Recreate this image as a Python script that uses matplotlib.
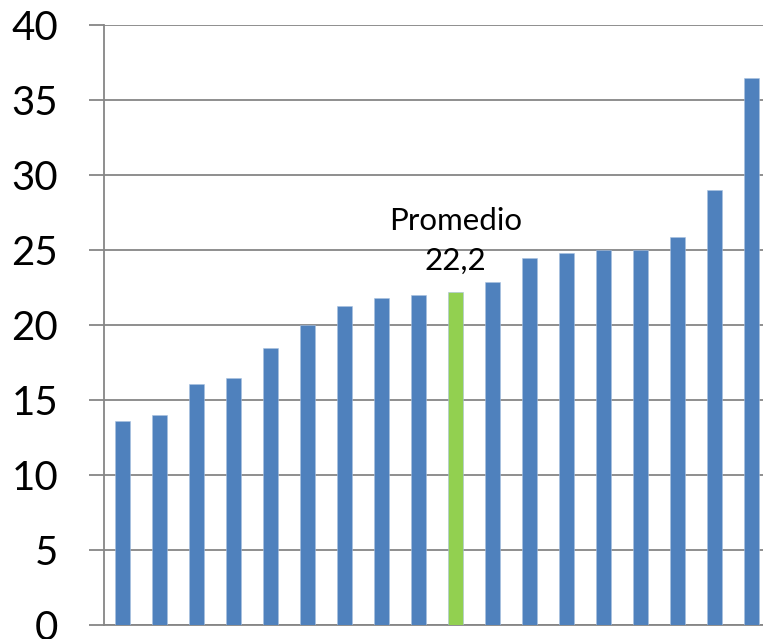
import matplotlib.pyplot as plt
import numpy as np

# sorted values, the green one is the average
values = [13.6, 14.0, 16.1, 16.5, 18.5, 20.0, 21.3, 21.8, 22.0, 22.2,
          22.9, 24.5, 24.8, 25.0, 25.0, 25.9, 29.0, 36.5]
highlight = 9
avg_title = "Promedio"
yticks = [0, 5, 10, 15, 20, 25, 30, 35, 40]

blue = '#4F81BD'
green = '#92D050'
grid = '#868686'

plt.rcParams['font.family'] = ['Lato', 'DejaVu Sans']

fig = plt.figure(figsize=(7.63, 6.39), dpi=100)
ax = fig.add_axes([104/763, 14/639, 666/763, 600/639])

x = np.arange(len(values))
colors = [green if i == highlight else blue for i in x]
ax.bar(x, values, width=0.4, color=colors, edgecolor='#A9C1E0', linewidth=0.4, zorder=3)

ax.set_xlim(-0.5, len(values) - 0.5)
ax.set_ylim(0, 40)
ax.set_yticks(yticks)
ax.set_yticklabels([str(t) for t in yticks], fontsize=29)
ax.set_xticks([])
ax.yaxis.grid(True, color=grid, linewidth=1.3, zorder=0)
ax.tick_params(axis='y', length=11, width=1.3, color=grid, pad=22)

for side in ['top', 'right']:
    ax.spines[side].set_visible(False)
for side in ['left', 'bottom']:
    ax.spines[side].set_color(grid)
    ax.spines[side].set_linewidth(1.3)

# average label, two lines above the green bar
avg = values[highlight]
ax.annotate(avg_title, (highlight, avg), xytext=(0, 45), textcoords='offset points',
            ha='center', va='baseline', fontsize=22.5)
ax.annotate(f"{avg:.1f}".replace('.', ','), (highlight, avg), xytext=(0, 16),
            textcoords='offset points', ha='center', va='baseline', fontsize=22.5)

fig.savefig('out.png', dpi=100)
